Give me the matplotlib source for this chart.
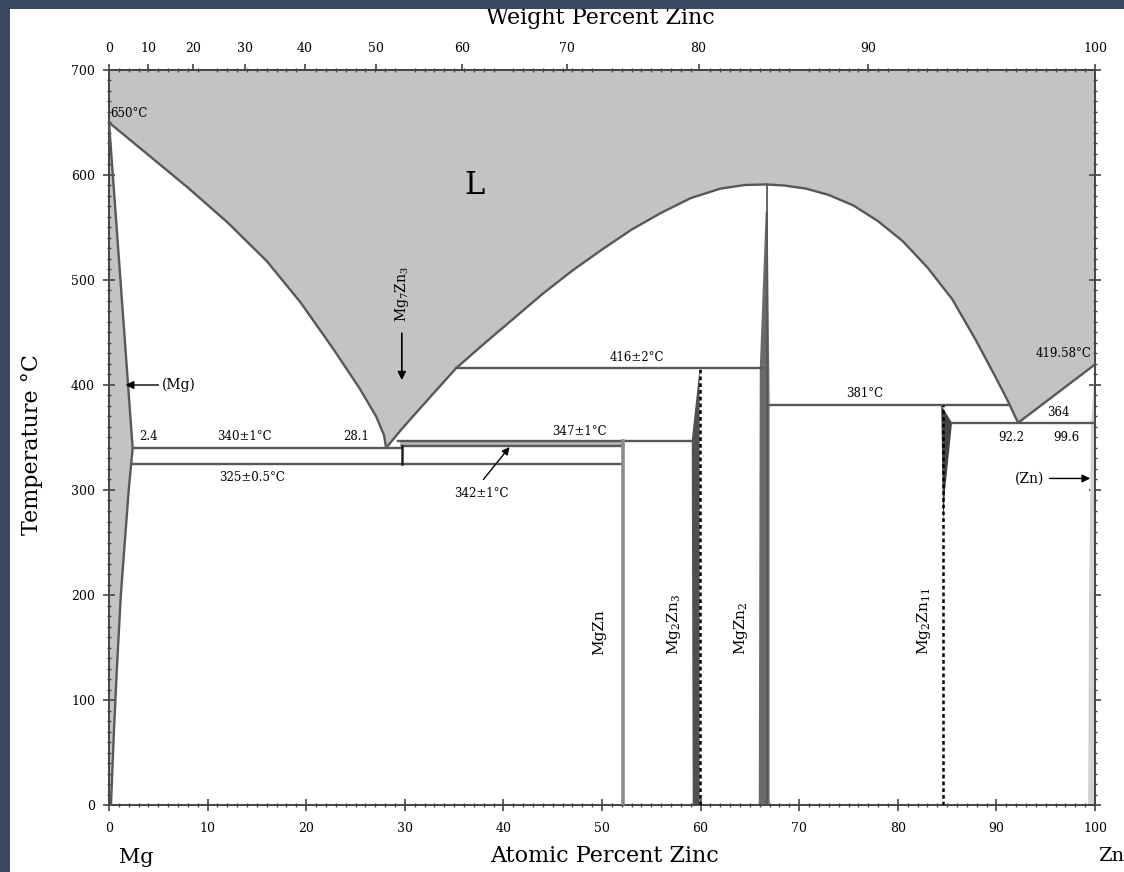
import matplotlib
matplotlib.use('Agg')
import matplotlib.pyplot as plt
import numpy as np
from matplotlib.patches import Polygon, Rectangle
from matplotlib.ticker import MultipleLocator

plt.rcParams['font.family'] = ['DejaVu Serif']
plt.rcParams['mathtext.default'] = 'regular'

# ---------------- data (atomic % Zn, temperature in C) ----------------
# liquidus branches
liq_mg_x = [0.0, 4.0, 8.0, 12.0, 16.0, 19.4, 22.7, 25.4, 27.1, 27.9, 28.1]
liq_mg_T = [650, 619, 588, 555, 518, 479, 435, 397, 370, 352, 340]
liq_mid_x = [28.1, 29.5, 31.0, 33.0, 35.2, 38.0, 41.0, 44.0, 47.0, 50.0, 53.0, 56.0, 59.0,
             62.0, 64.5, 66.7]
liq_mid_T = [340, 356, 372, 393, 416, 439, 463, 487, 509, 529, 548, 564, 578, 587, 590.5, 591]
liq_right_x = [66.7, 68.5, 70.7, 73.0, 75.5, 78.0, 80.5, 83.0, 85.5, 87.9, 90.0, 91.2, 92.2]
liq_right_T = [591, 590, 587, 581, 571, 556, 537, 512, 482, 443, 406, 384, 364]
liq_zn_x = [92.2, 100.0]
liq_zn_T = [364, 419.58]

# (Mg) solid solution: solidus then solvus
mg_ss_x = [0.0, 2.4, 2.0, 1.6, 1.2, 0.8, 0.5, 0.2, 0.0]
mg_ss_T = [650, 340, 300, 250, 200, 130, 70, 0, 0]

# invariant horizontal lines: temperature, x start, x end
inv_T = [340, 325, 342, 347, 416, 381, 364]
inv_x0 = [2.4, 2.4, 29.7, 29.3, 35.2, 67.0, 85.5]
inv_x1 = [29.7, 52.1, 52.1, 59.2, 66.2, 91.3, 100.0]

# compounds
mgzn_x = 52.1
mg7zn3_x = 29.7
mg2zn3_poly_x = [59.9, 59.1, 59.2, 59.9]
mg2zn3_poly_T = [416, 347, 0, 0]
mgzn2_x = 66.7
mgzn2_poly_x = [66.6, 66.0, 65.9, 67.0, 67.0, 66.8]
mgzn2_poly_T = [565, 416, 0, 0, 381, 565]
mg2zn11_x = 84.6
mg2zn11_poly_x = [84.4, 85.5, 84.8, 84.6]
mg2zn11_poly_T = [381, 364, 300, 270]
zn_ss_x = [100.0, 99.6, 99.4, 99.3, 100.0]
zn_ss_T = [419.58, 364, 200, 0, 0]

wt_ticks = [0, 10, 20, 30, 40, 50, 60, 70, 80, 90, 100]
at_ticks = [0, 10, 20, 30, 40, 50, 60, 70, 80, 90, 100]
T_ticks = [0, 100, 200, 300, 400, 500, 600, 700]

M_ZN, M_MG = 65.38, 24.305


def at2wt(a):
    a = np.asarray(a, float)
    return 100 * a * M_ZN / (a * M_ZN + (100 - a) * M_MG)


def wt2at(w):
    w = np.asarray(w, float)
    return 100 * (w / M_ZN) / (w / M_ZN + (100 - w) / M_MG)


W, H = 1124, 872
fig = plt.figure(figsize=(W / 100, H / 100), dpi=100)
fig.patch.set_facecolor('white')
ax = fig.add_axes([109 / W, 67 / H, 986 / W, 735 / H])
ax.set_xlim(0, 100)
ax.set_ylim(0, 700)

GREY = '#c3c3c3'
LINE = '#585858'
LW = 1.7

# liquid region
liq_x = liq_mg_x + liq_mid_x[1:] + liq_right_x[1:] + liq_zn_x[1:]
liq_T = liq_mg_T + liq_mid_T[1:] + liq_right_T[1:] + liq_zn_T[1:]
ax.fill_between(liq_x, liq_T, 700, color=GREY, lw=0, zorder=1)
ax.plot(liq_x, liq_T, color=LINE, lw=LW, zorder=3, solid_joinstyle='round')

# (Mg) solid solution
ax.add_patch(Polygon(list(zip(mg_ss_x, mg_ss_T)), closed=True, facecolor=GREY,
                     edgecolor='none', zorder=1))
ax.plot(mg_ss_x[:-1], mg_ss_T[:-1], color=LINE, lw=LW, zorder=3)

# band between 342 and 347
ax.fill_between([29.5, 52.1], [342, 342], [347, 347], color='#b4b4b4', lw=0, zorder=1)

# invariant lines
for T, x0, x1 in zip(inv_T, inv_x0, inv_x1):
    ax.plot([x0, x1], [T, T], color=LINE, lw=LW, zorder=3)

# compounds
ax.plot([mgzn_x, mgzn_x], [0, 347], color='#8c8c8c', lw=2.6, zorder=3)
ax.plot([mg7zn3_x, mg7zn3_x], [325, 342], color='#222222', lw=1.8, zorder=3)
ax.add_patch(Polygon(list(zip(mg2zn3_poly_x, mg2zn3_poly_T)), closed=True,
                     facecolor='#505050', edgecolor='none', zorder=2))
ax.plot([59.9, 59.9], [0, 416], color='black', lw=1.8, ls=(0, (1.5, 1.2)), zorder=3)
ax.plot([mgzn2_x, mgzn2_x], [0, 591], color=LINE, lw=1.3, zorder=3)
ax.add_patch(Polygon(list(zip(mgzn2_poly_x, mgzn2_poly_T)), closed=True,
                     facecolor='#6a6a6a', edgecolor='none', zorder=2))
ax.plot([mg2zn11_x, mg2zn11_x], [0, 381], color='black', lw=1.8, ls=(0, (1.5, 1.2)), zorder=3)
ax.add_patch(Polygon(list(zip(mg2zn11_poly_x, mg2zn11_poly_T)), closed=True,
                     facecolor='#444444', edgecolor='none', zorder=2))
ax.add_patch(Polygon(list(zip(zn_ss_x, zn_ss_T)), closed=True,
                     facecolor='#d2d2d2', edgecolor='none', zorder=2))

# ---------------- text annotations ----------------
fs = 8.5
ax.text(0.1, 659, '650\u00b0C', fontsize=fs, ha='left', va='center', zorder=5)
ax.text(37.1, 590, 'L', fontsize=22, ha='center', va='center', zorder=5)
ax.text(5.4, 400, '(Mg)', fontsize=10, ha='left', va='center', zorder=5)
ax.annotate('', xy=(1.4, 400), xytext=(5.3, 400),
            arrowprops=dict(arrowstyle='-|>', color='black', lw=1.0, mutation_scale=12), zorder=5)
ax.text(4.0, 351, '2.4', fontsize=fs, ha='center', va='center', zorder=5)
ax.text(13.7, 351, '340\u00b11\u00b0C', fontsize=fs, ha='center', va='center', zorder=5)
ax.text(25.1, 351, '28.1', fontsize=fs, ha='center', va='center', zorder=5)
ax.text(14.5, 312, '325\u00b10.5\u00b0C', fontsize=fs, ha='center', va='center', zorder=5)
ax.text(37.8, 297, '342\u00b11\u00b0C', fontsize=fs, ha='center', va='center', zorder=5)
ax.annotate('', xy=(40.8, 343), xytext=(37.8, 308),
            arrowprops=dict(arrowstyle='-|>', color='black', lw=1.0, mutation_scale=11), zorder=5)
ax.text(47.7, 356, '347\u00b11\u00b0C', fontsize=fs, ha='center', va='center', zorder=5)
ax.text(53.5, 426, '416\u00b12\u00b0C', fontsize=fs, ha='center', va='center', zorder=5)
ax.text(76.6, 392, '381\u00b0C', fontsize=fs, ha='center', va='center', zorder=5)
ax.text(99.6, 430, '419.58\u00b0C', fontsize=fs, ha='right', va='center', zorder=5)
ax.text(96.3, 374, '364', fontsize=fs, ha='center', va='center', zorder=5)
ax.text(91.5, 350, '92.2', fontsize=fs, ha='center', va='center', zorder=5)
ax.text(97.1, 350, '99.6', fontsize=fs, ha='center', va='center', zorder=5)
ax.text(94.9, 311, '(Zn)', fontsize=10, ha='right', va='center', zorder=5)
ax.annotate('', xy=(99.8, 311), xytext=(95.1, 311),
            arrowprops=dict(arrowstyle='-|>', color='black', lw=1.0, mutation_scale=12), zorder=5)

ax.text(29.7, 487, 'Mg$_7$Zn$_3$', fontsize=10, rotation=90, ha='center', va='center', zorder=5)
ax.annotate('', xy=(29.7, 402), xytext=(29.7, 452),
            arrowprops=dict(arrowstyle='-|>', color='black', lw=1.2, mutation_scale=12), zorder=5)

phase_x = [49.7, 57.3, 64.1, 82.7]
phase_lbl = ['MgZn', 'Mg$_2$Zn$_3$', 'MgZn$_2$', 'Mg$_2$Zn$_{11}$']
for px, pl in zip(phase_x, phase_lbl):
    ax.text(px, 143, pl, fontsize=11, rotation=90, ha='center', va='bottom', zorder=5)

# ---------------- axes styling ----------------
for s in ax.spines.values():
    s.set_color('#444444')
    s.set_linewidth(1.4)

ax.set_xticks(at_ticks)
ax.set_yticks(T_ticks)
ax.xaxis.set_minor_locator(MultipleLocator(1))
ax.yaxis.set_minor_locator(MultipleLocator(10))
ax.tick_params(which='major', direction='inout', length=8, width=1.2, color='#444444',
               labelsize=9, pad=8, top=False, right=True)
ax.tick_params(which='minor', direction='inout', length=3.5, width=1.0, color='#444444',
               top=True, right=True)
ax.tick_params(axis='y', which='major', pad=6)

sec = ax.secondary_xaxis('top', functions=(at2wt, wt2at))
sec.set_xticks(wt_ticks)
sec.tick_params(direction='inout', length=8, width=1.2, color='#444444', labelsize=9, pad=7)
sec.spines['top'].set_color('#444444')
sec.spines['top'].set_linewidth(1.4)

# axis titles
fig.text(600 / W, 1 - 18 / H, 'Weight Percent Zinc', fontsize=16, ha='center', va='center')
fig.text(605 / W, 1 - 856 / H, 'Atomic Percent Zinc', fontsize=16, ha='center', va='center')
fig.text(136 / W, 1 - 857 / H, 'Mg', fontsize=15, ha='center', va='center')
fig.text(1098 / W, 1 - 856 / H, 'Zn', fontsize=14, ha='left', va='center')
fig.text(32 / W, 1 - 445 / H, 'Temperature \u00b0C', fontsize=16, rotation=90,
         ha='center', va='center')

# dark frame strips (left and top)
fig.patches.append(Rectangle((0, 1 - 9 / H), 1, 9 / H, transform=fig.transFigure,
                             facecolor='#3a4760', edgecolor='none', zorder=10))
fig.patches.append(Rectangle((0, 0), 10 / W, 1, transform=fig.transFigure,
                             facecolor='#3a4760', edgecolor='none', zorder=10))

fig.savefig('out.png', dpi=100)
